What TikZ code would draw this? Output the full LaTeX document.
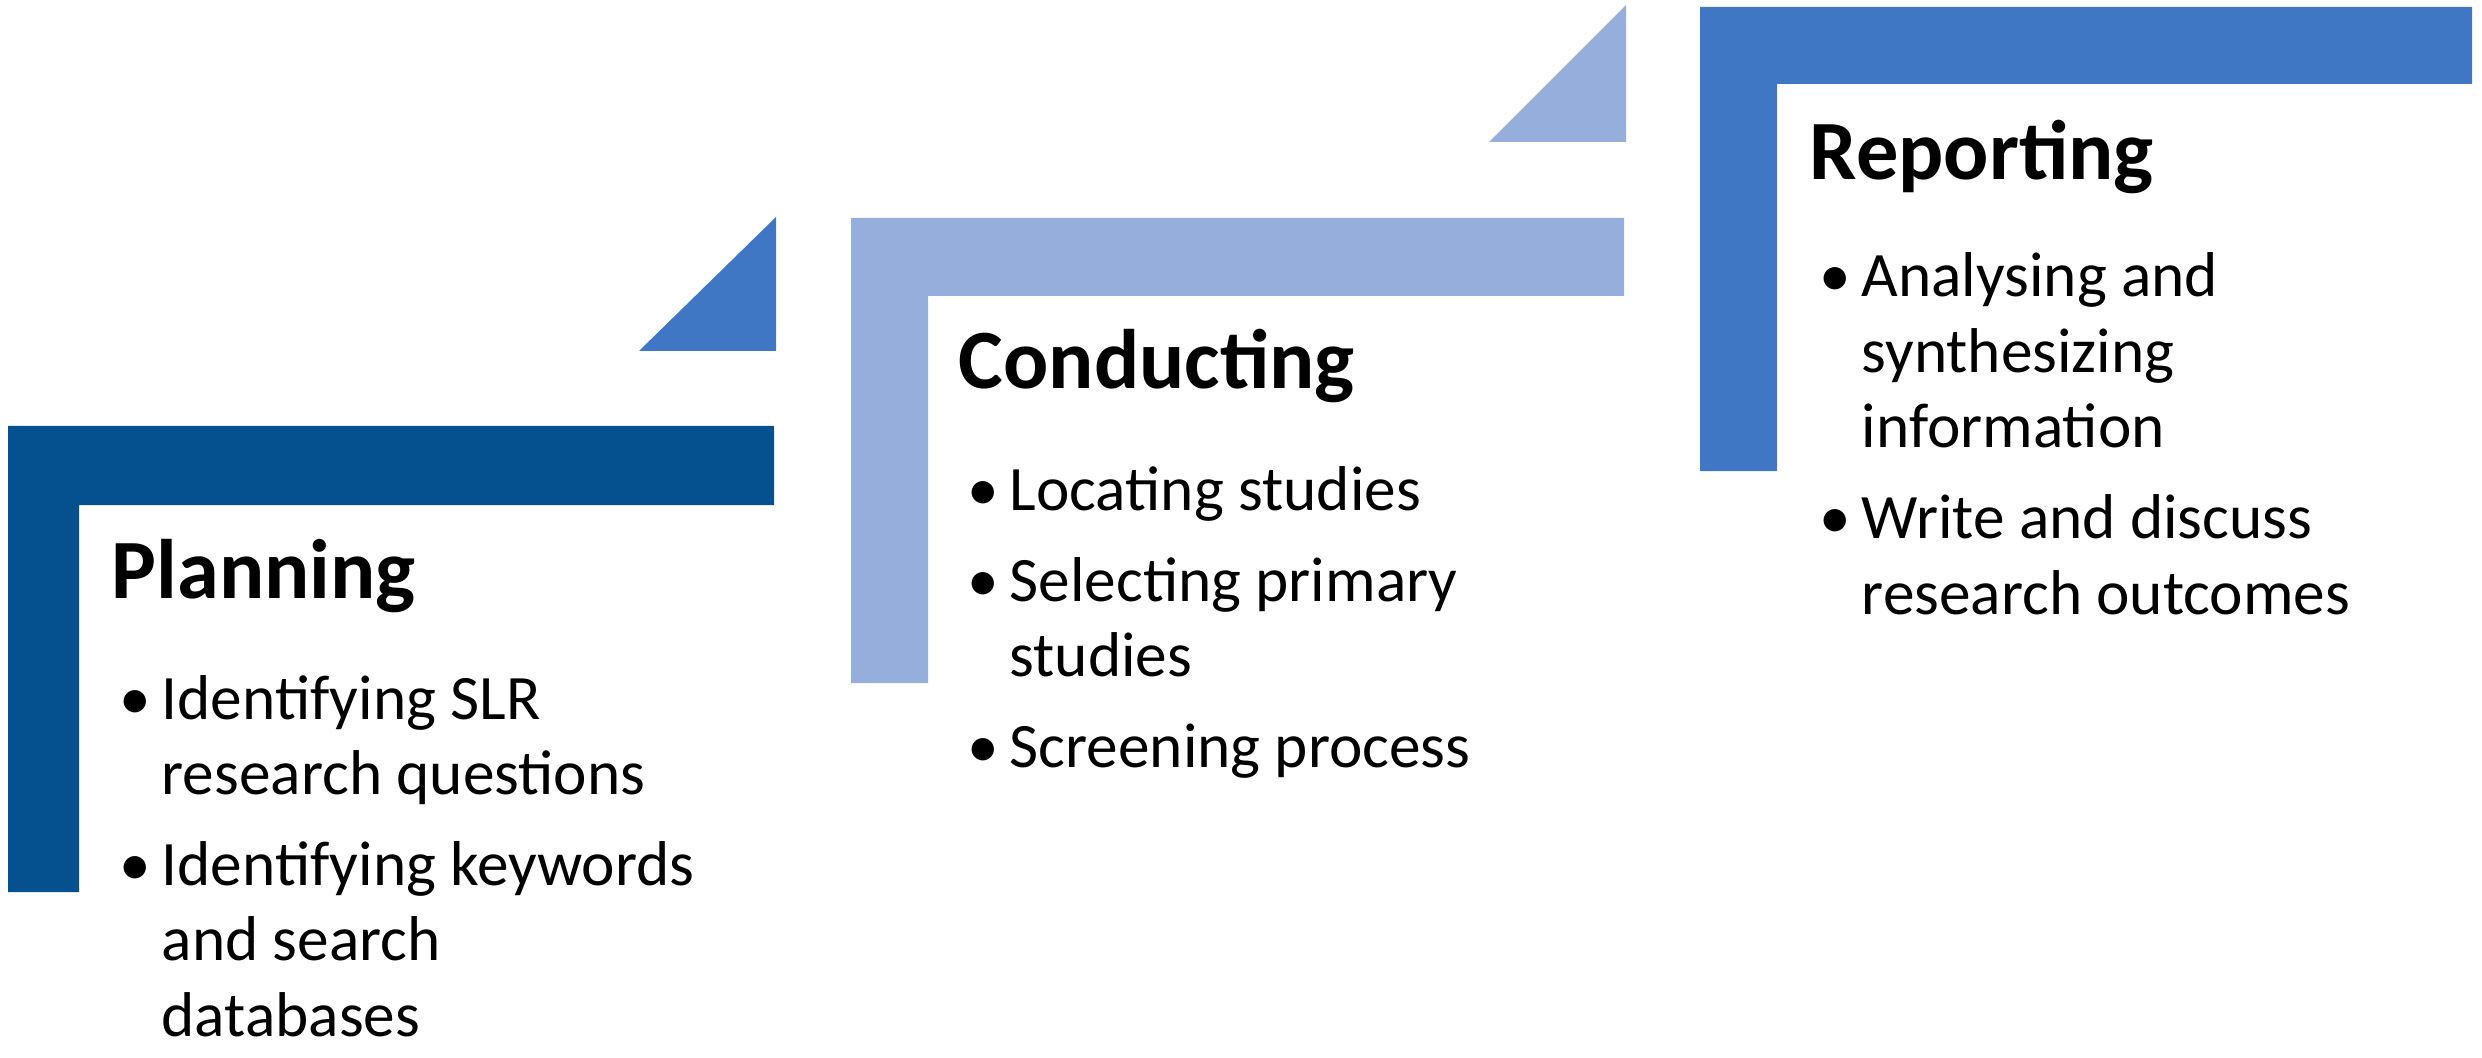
\documentclass[tikz,border=0pt]{standalone}
\usepackage{fontspec}
\setmainfont{Carlito}
\definecolor{darkblu}{HTML}{05508F}
\definecolor{midblu}{HTML}{4077C5}
\definecolor{lightblu}{HTML}{95AEDB}
\newcommand{\bitem}[1]{\par\hangindent=0.42cm\hangafter=1\noindent\makebox[0.42cm][l]{\textbullet}#1}
\newcommand{\bgap}{\par\vspace{0.16cm}}
\tikzset{
  titolo/.style={anchor=base west,inner sep=0pt,font=\fontsize{24}{28}\selectfont\bfseries},
  punti/.style={anchor=base west,inner sep=0pt,font=\fontsize{18}{21.4}\selectfont}
}
\begin{document}
\begin{tikzpicture}[x=0.01cm,y=-0.01cm]
        \useasboundingbox (0,0) rectangle (2482,1058);
        %planning
        \fill[darkblu] (8,426) -- (774,426) -- (774,505) -- (79,505) -- (79,892) -- (8,892) -- cycle;
        \fill[midblu] (639,351) -- (776,351) -- (776,217) -- cycle;
        \node[titolo] (plan) at (111,598) {Planning};
        \node[punti] (planitems) at (119,719) {\parbox[t]{6.6cm}{%
          \bitem{Identifying SLR\newline research questions}\bgap
          \bitem{Identifying keywords\newline and search\newline databases}}};
        %conducting
        \fill[lightblu] (851,218) -- (1624,218) -- (1624,296) -- (928,296) -- (928,683) -- (851,683) -- cycle;
        \fill[lightblu] (1489,142) -- (1626,142) -- (1626,5) -- cycle;
        \node[titolo] (cond) at (958,389) {Conducting};
        \node[punti] (conditems) at (967,510) {\parbox[t]{6.6cm}{%
          \bitem{Locating studies}\bgap
          \bitem{Selecting primary\newline studies}\bgap
          \bitem{Screening process}}};
        %reporting
        \fill[midblu] (1700,7) -- (2472,7) -- (2472,84) -- (1777,84) -- (1777,471) -- (1700,471) -- cycle;
        \node[titolo] (rep) at (1809,180) {Reporting};
        \node[punti] (repitems) at (1819,297) {\parbox[t]{6.6cm}{%
          \bitem{Analysing and\newline synthesizing\newline information}\bgap
          \bitem{Write and discuss\newline research outcomes}}};
    \end{tikzpicture}
\end{document}
